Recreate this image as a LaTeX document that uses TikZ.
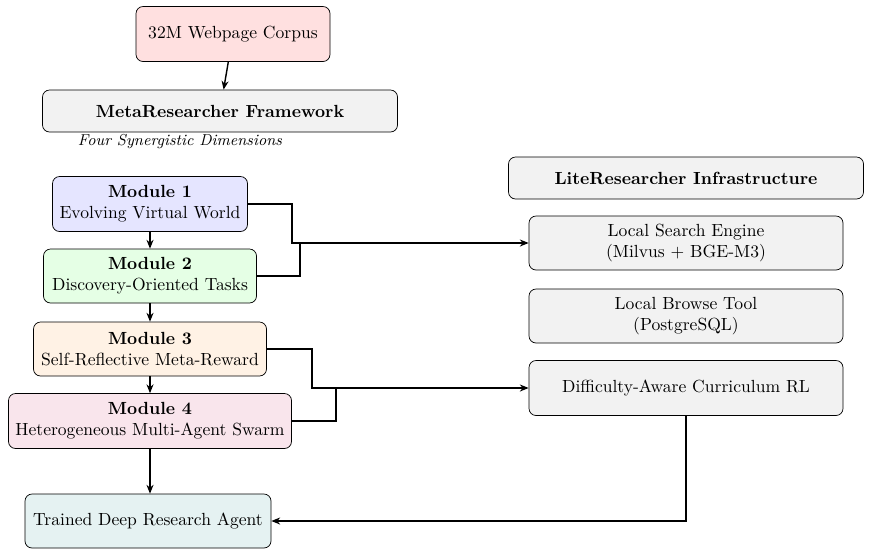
\documentclass[tikz,border=0pt]{standalone}
\usetikzlibrary{arrows.meta}
\begin{document}
\begin{tikzpicture}[x=0.02cm,y=-0.02cm,
  box/.style={draw,rounded corners=4pt,align=center,inner sep=2pt},
  link/.style={-{Stealth[length=5pt,width=4pt]},thick}]
\useasboundingbox (0,0) rectangle (871,555);

\node[box,fill=red!12,minimum width=194*0.02cm,minimum height=55*0.02cm] (corpus) at (233,34) {32M Webpage Corpus};
\node[box,fill=gray!10,minimum width=355*0.02cm,minimum height=42*0.02cm,font=\bfseries] (meta) at (220,111) {MetaResearcher Framework};
\node[font=\itshape\small] (dims) at (180,142) {Four Synergistic Dimensions};

\node[box,fill=blue!10,minimum width=195*0.02cm,minimum height=55*0.02cm] (m1) at (150,204) {\textbf{Module 1}\\Evolving Virtual World};
\node[box,fill=green!10,minimum width=213*0.02cm,minimum height=54*0.02cm] (m2) at (150,276) {\textbf{Module 2}\\Discovery-Oriented Tasks};
\node[box,fill=orange!10,minimum width=233*0.02cm,minimum height=54*0.02cm] (m3) at (150,349) {\textbf{Module 3}\\Self-Reflective Meta-Reward};
\node[box,fill=purple!10,minimum width=283*0.02cm,minimum height=55*0.02cm] (m4) at (150,421) {\textbf{Module 4}\\Heterogeneous Multi-Agent Swarm};
\node[box,fill=teal!10,minimum width=246*0.02cm,minimum height=54*0.02cm] (agent) at (148,521) {Trained Deep Research Agent};

\node[box,fill=gray!10,minimum width=355*0.02cm,minimum height=42*0.02cm,font=\bfseries] (lite) at (686,178) {LiteResearcher Infrastructure};
\node[box,fill=gray!10,minimum width=314*0.02cm,minimum height=54*0.02cm] (search) at (686,243) {Local Search Engine\\(Milvus + BGE-M3)};
\node[box,fill=gray!10,minimum width=314*0.02cm,minimum height=54*0.02cm] (browse) at (686,316) {Local Browse Tool\\(PostgreSQL)};
\node[box,fill=gray!10,minimum width=314*0.02cm,minimum height=55*0.02cm] (rl) at (686,388) {Difficulty-Aware Curriculum RL};

\coordinate (j1) at (300,243);
\coordinate (j2) at (336,388);

\draw[link] (corpus) -- (meta);
\draw[link] (m1) -- (m2);
\draw[link] (m2) -- (m3);
\draw[link] (m3) -- (m4);
\draw[link] (m4) -- (m4 |- agent.north);
\draw[link] (m1.east) -- ++(44,0) |- (search.west);
\draw[thick] (m2.east) -| (j1);
\draw[link] (m3.east) -- ++(45,0) |- (rl.west);
\draw[thick] (m4.east) -| (j2);
\draw[link] (rl.south) |- (agent.east);
\end{tikzpicture}
\end{document}
